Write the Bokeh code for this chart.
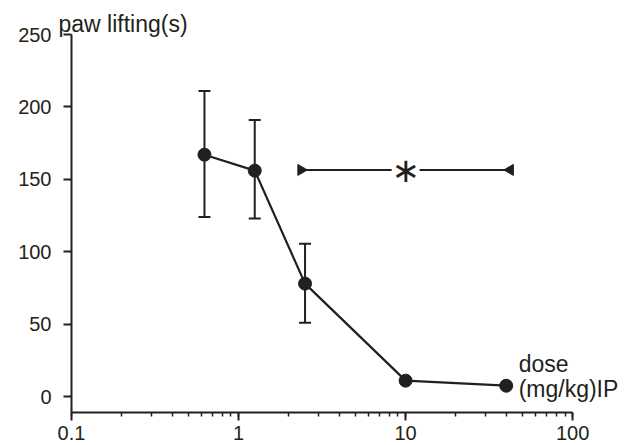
import math
from bokeh.plotting import figure
from bokeh.models import (Range1d, FixedTicker, Whisker, TeeHead, Label,
                          ColumnDataSource, LogTicker, Title)
from bokeh.embed import file_html
from bokeh.resources import INLINE

# ---- data ----
dose = [0.625, 1.25, 2.5, 10, 40]          # mg/kg IP
paw_lifting = [167, 156, 78, 11, 7.5]       # seconds
err_upper = [211, 191, 105.5, 11, 7.5]
err_lower = [124, 123, 51, 11, 7.5]

y_ticks = [0, 50, 100, 150, 200, 250]
x_ticks = [0.1, 1, 10, 100]

sig_from = 2.5      # significance bracket from dose 2.5 ...
sig_to = 40         # ... to dose 40
sig_level = 156.5   # height of the bracket
sig_mark = "\u2217"

INK = "#231f20"
FONT = "Liberation Sans"

# frame extends right of the x axis so the "dose" text is not clipped;
# the axis itself is limited with `bounds`
p = figure(width=636, height=445, x_axis_type="log",
           x_range=Range1d(0.1, 241), y_range=Range1d(-11, 250),
           output_backend="svg", toolbar_location=None,
           min_border_left=71, min_border_right=0,
           min_border_top=34, min_border_bottom=33)
p.outline_line_color = None
p.xgrid.grid_line_color = None
p.ygrid.grid_line_color = None
p.background_fill_color = "white"
p.border_fill_color = "white"

# axes
for ax in (p.xaxis[0], p.yaxis[0]):
    ax.axis_line_width = 2
    ax.axis_line_color = INK
    ax.major_tick_line_color = INK
    ax.major_tick_line_width = 2
    ax.major_tick_in = 0
    ax.major_tick_out = 8
    ax.major_label_text_font = FONT
    ax.major_label_text_font_size = "20px"
    ax.major_label_text_color = INK

p.yaxis.ticker = FixedTicker(ticks=y_ticks)
p.yaxis.minor_tick_line_color = None
p.yaxis.major_label_standoff = 12

p.xaxis.ticker = LogTicker(desired_num_ticks=4, num_minor_ticks=10)
p.xaxis.bounds = (x_ticks[0], x_ticks[-1])
p.xaxis.minor_tick_line_color = INK
p.xaxis.minor_tick_line_width = 1.5
p.xaxis.minor_tick_in = 0
p.xaxis.minor_tick_out = 4
p.xaxis.major_label_standoff = 5
p.xaxis.major_label_overrides = {0.1: "0.1", 1: "1", 10: "10", 100: "100"}

# y-axis title, above the plot at the top-left
p.add_layout(Title(text="paw lifting(s)", align="left", offset=-13,
                   vertical_align="bottom", standoff=-4,
                   text_font=FONT, text_font_size="23px",
                   text_font_style="normal", text_color=INK), "above")

# error bars
src = ColumnDataSource(dict(x=dose, y=paw_lifting, up=err_upper, lo=err_lower))
wh = Whisker(source=src, base="x", upper="up", lower="lo", dimension="height",
             line_color=INK, line_width=2,
             upper_head=TeeHead(size=12, line_color=INK, line_width=2),
             lower_head=TeeHead(size=12, line_color=INK, line_width=2))
p.add_layout(wh)

# mean curve
p.line("x", "y", source=src, line_color=INK, line_width=2.2)
p.scatter("x", "y", source=src, size=13, fill_color=INK, line_color=INK)

# significance bracket
shift = 10 ** (4 / 167)      # a few pixels outward on the log axis
gap = 10 ** (14 / 167)       # room for the star
mid = 10
left_end = sig_from / shift
right_end = sig_to * shift
p.segment(x0=[left_end, mid * gap], y0=[sig_level, sig_level],
          x1=[mid / gap, right_end], y1=[sig_level, sig_level],
          line_color=INK, line_width=2)
p.scatter(x=[left_end], y=[sig_level], marker="triangle", size=11,
          angle=-math.pi / 2, fill_color=INK, line_color=INK)
p.scatter(x=[right_end], y=[sig_level], marker="triangle", size=11,
          angle=math.pi / 2, fill_color=INK, line_color=INK)
p.add_layout(Label(x=mid, y=sig_level, text=sig_mark, text_font="DejaVu Sans",
                   text_font_size="34px", text_align="center",
                   text_baseline="middle", text_color=INK))

# x-axis title at the right end
p.add_layout(Label(x=47.5, y=22.8, text="dose", text_font=FONT,
                   text_font_size="23px", text_align="left",
                   text_baseline="alphabetic", text_color=INK))
p.add_layout(Label(x=47.5, y=5.5, text="(mg/kg)IP", text_font=FONT,
                   text_font_size="23px", text_align="left",
                   text_baseline="alphabetic", text_color=INK))

open("out.html", "w").write(file_html(p, INLINE))
